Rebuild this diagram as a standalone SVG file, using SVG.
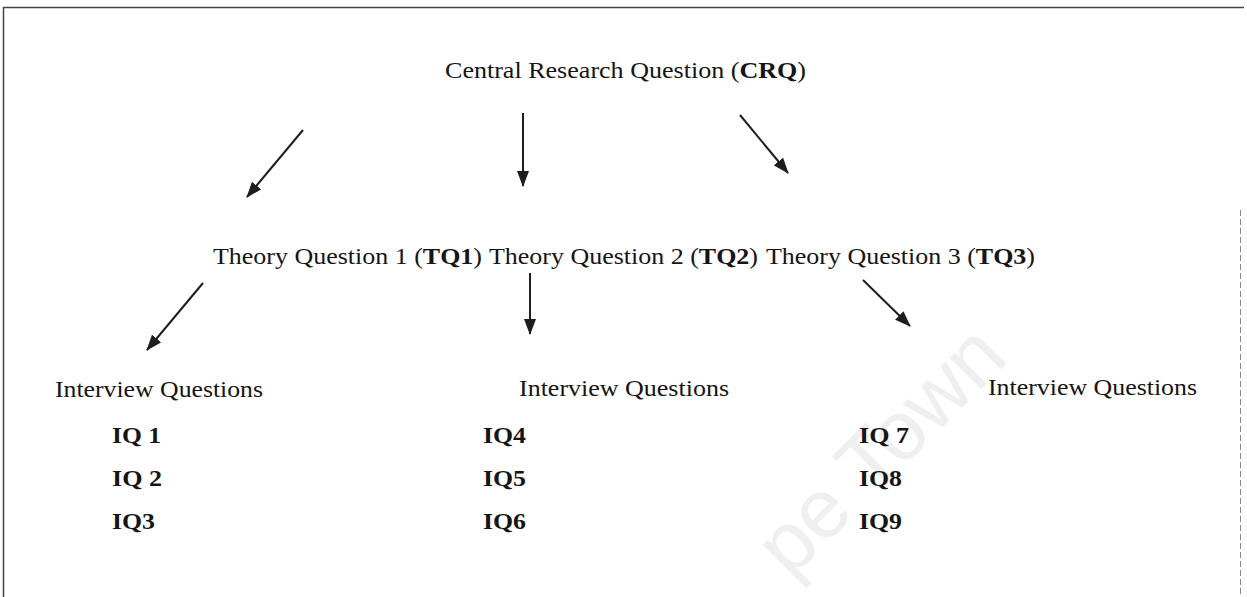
<svg xmlns="http://www.w3.org/2000/svg" width="1247" height="597" viewBox="0 0 1247 597">
  <defs>
    <style>
      .t { font-family: "Liberation Serif", "Times New Roman", serif; font-size: 24px; fill: #151515; }
      .b { font-weight: bold; }
      .c { stroke: #1e1e1e; stroke-width: 2; fill: none; }
      .wm { font-family: "Liberation Sans", Arial, sans-serif; font-size: 84px; fill: #efefef; }
    </style>
    <marker id="arrow" viewBox="0 0 16 12" refX="15" refY="6" markerWidth="16" markerHeight="12" markerUnits="userSpaceOnUse" orient="auto">
      <path d="M0,0 L16,6 L0,12 z" fill="#1e1e1e"/>
    </marker>
  </defs>
  <rect x="0" y="0" width="1247" height="597" fill="#fff"/>
  <g id="watermark">
    <text class="wm" x="0" y="0" transform="translate(790,580) rotate(-45)">pe Town</text>
  </g>
  <g id="frame" fill="none">
    <path d="M3.5,597 V7.5 H1244" stroke="#444" stroke-width="1.5"/>
    <path d="M1240.5,210 V597" stroke="#888" stroke-width="1" stroke-dasharray="6,3"/>
  </g>
  <g id="connectors">
    <line class="c" x1="303" y1="130" x2="247" y2="197" marker-end="url(#arrow)"/>
    <line class="c" x1="523" y1="113" x2="523" y2="186" marker-end="url(#arrow)"/>
    <line class="c" x1="740" y1="115" x2="788" y2="173" marker-end="url(#arrow)"/>
    <line class="c" x1="203" y1="283" x2="147" y2="350" marker-end="url(#arrow)"/>
    <line class="c" x1="530" y1="273" x2="530" y2="334" marker-end="url(#arrow)"/>
    <line class="c" x1="863" y1="280" x2="910" y2="326" marker-end="url(#arrow)"/>
  </g>
  <g id="crq">
    <text class="t" x="445" y="78" textLength="361" lengthAdjust="spacingAndGlyphs">Central Research Question (<tspan class="b">CRQ</tspan>)</text>
  </g>
  <g id="tq1">
    <text class="t" x="213" y="264" textLength="269" lengthAdjust="spacingAndGlyphs">Theory Question 1 (<tspan class="b">TQ1</tspan>)</text>
  </g>
  <g id="tq2">
    <text class="t" x="489" y="264" textLength="269" lengthAdjust="spacingAndGlyphs">Theory Question 2 (<tspan class="b">TQ2</tspan>)</text>
  </g>
  <g id="tq3">
    <text class="t" x="766" y="264" textLength="269" lengthAdjust="spacingAndGlyphs">Theory Question 3 (<tspan class="b">TQ3</tspan>)</text>
  </g>
  <g id="iq-group-1">
    <text class="t" x="55" y="397" textLength="208" lengthAdjust="spacingAndGlyphs">Interview Questions</text>
    <text class="t b" x="112" y="443" textLength="49" lengthAdjust="spacingAndGlyphs">IQ 1</text>
    <text class="t b" x="112" y="486" textLength="50" lengthAdjust="spacingAndGlyphs">IQ 2</text>
    <text class="t b" x="112" y="529" textLength="43" lengthAdjust="spacingAndGlyphs">IQ3</text>
  </g>
  <g id="iq-group-2">
    <text class="t" x="519" y="396" textLength="210" lengthAdjust="spacingAndGlyphs">Interview Questions</text>
    <text class="t b" x="483" y="443" textLength="43" lengthAdjust="spacingAndGlyphs">IQ4</text>
    <text class="t b" x="483" y="486" textLength="43" lengthAdjust="spacingAndGlyphs">IQ5</text>
    <text class="t b" x="483" y="529" textLength="43" lengthAdjust="spacingAndGlyphs">IQ6</text>
  </g>
  <g id="iq-group-3">
    <text class="t" x="988" y="395" textLength="209" lengthAdjust="spacingAndGlyphs">Interview Questions</text>
    <text class="t b" x="859" y="443" textLength="50" lengthAdjust="spacingAndGlyphs">IQ 7</text>
    <text class="t b" x="859" y="486" textLength="43" lengthAdjust="spacingAndGlyphs">IQ8</text>
    <text class="t b" x="859" y="529" textLength="43" lengthAdjust="spacingAndGlyphs">IQ9</text>
  </g>
</svg>
